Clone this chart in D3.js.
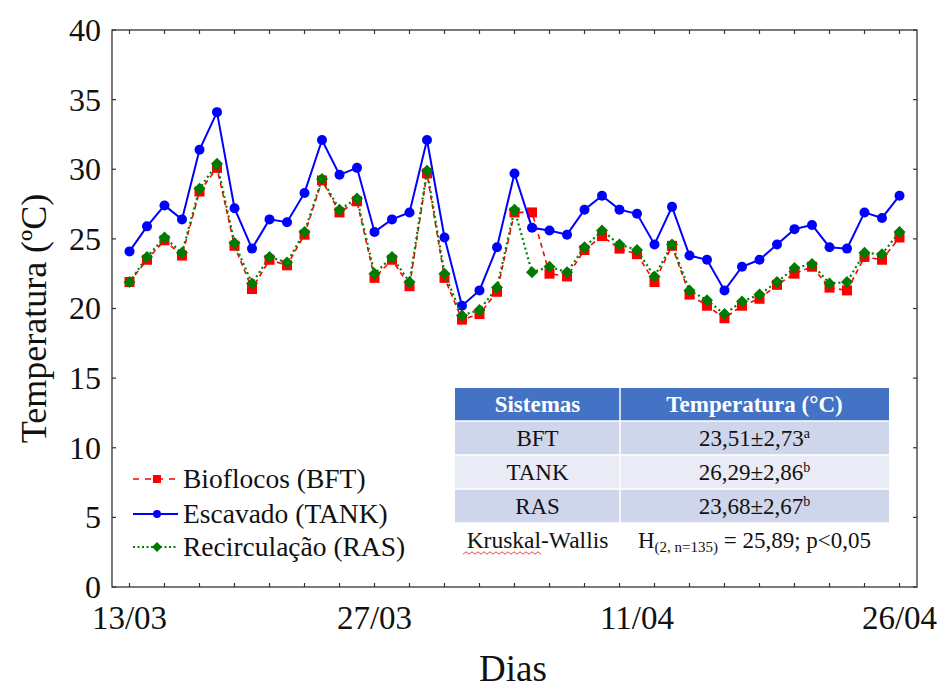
<!DOCTYPE html>
<html>
<head>
<meta charset="utf-8">
<script src="https://cdn.jsdelivr.net/npm/d3@7/dist/d3.min.js"></script>
<style>
  html, body { margin: 0; padding: 0; background: #fff; }
  svg { display: block; }
  text { font-family: "Liberation Serif", "Times New Roman", serif; }
</style>
</head>
<body>
<svg id="chart" width="943" height="689"></svg>
<script>
// ---------- data ----------
const days = d3.range(1, 46); // day index 1..45 (13/03 .. 26/04)
const bft  = [21.9,23.5,24.9,23.8,28.4,30.1,24.5,21.4,23.5,23.1,
              25.3,29.2,26.9,27.7,22.2,23.5,21.6,29.7,22.2,19.2,
              19.6,21.2,26.9,26.9,22.5,22.3,24.2,25.2,24.3,23.9,
              21.9,24.5,21.0,20.2,19.3,20.2,20.7,21.7,22.5,23.0,
              21.5,21.3,23.7,23.5,25.1];
const tank = [24.1,25.9,27.4,26.4,31.4,34.1,27.2,24.3,26.4,26.2,
              28.3,32.1,29.6,30.1,25.5,26.4,26.9,32.1,25.1,20.2,
              21.3,24.4,29.7,25.8,25.6,25.3,27.1,28.1,27.1,26.8,
              24.6,27.3,23.8,23.5,21.3,23.0,23.5,24.6,25.7,26.0,
              24.4,24.3,26.9,26.5,28.1];
const ras  = [21.9,23.7,25.1,24.0,28.6,30.4,24.7,21.8,23.7,23.3,
              25.5,29.3,27.1,27.9,22.5,23.7,21.9,29.9,22.5,19.5,
              19.9,21.5,27.1,22.6,23.0,22.6,24.4,25.6,24.6,24.2,
              22.3,24.6,21.3,20.6,19.6,20.5,21.0,21.9,22.9,23.2,
              21.8,21.9,24.0,23.9,25.5];
const xTickDays   = [1, 15, 30, 45];
const xTickLabels = ["13/03", "27/03", "11/04", "26/04"];
const yTicks      = [0, 5, 10, 15, 20, 25, 30, 35, 40];
const seriesNames = ["Bioflocos (BFT)", "Escavado (TANK)", "Recirculação (RAS)"];
const tableHeader = ["Sistemas", "Temperatura (°C)"];
const tableSystems = ["BFT", "TANK", "RAS"];
const tableValues  = ["23,51±2,73", "26,29±2,86", "23,68±2,67"];
const tableLetters = ["a", "b", "b"];

// ---------- layout ----------
const svg = d3.select("#chart");
const L = 112, R = 917, T = 30, B = 587;
const x = d3.scaleLinear().domain([0, 46]).range([L, R]);
const y = d3.scaleLinear().domain([0, 40]).range([B, T]);
const axisColor = "#333";

// frame
svg.append("rect").attr("x", L).attr("y", T).attr("width", R - L).attr("height", B - T)
  .attr("fill", "none").attr("stroke", axisColor).attr("stroke-width", 1.3);

// minor ticks (inside) on all four sides
const minorX = d3.range(1, 46, 2);
const tickG = svg.append("g").attr("stroke", axisColor).attr("stroke-width", 1.2);
tickG.selectAll(".tb").data(minorX).join("line")
  .attr("x1", d => x(d)).attr("x2", d => x(d)).attr("y1", B).attr("y2", B - 4);
tickG.selectAll(".tt").data(minorX).join("line")
  .attr("x1", d => x(d)).attr("x2", d => x(d)).attr("y1", T).attr("y2", T + 4);
tickG.selectAll(".tl").data(yTicks).join("line")
  .attr("x1", L).attr("x2", L + 4).attr("y1", d => y(d)).attr("y2", d => y(d));
tickG.selectAll(".tr").data(yTicks).join("line")
  .attr("x1", R).attr("x2", R - 4).attr("y1", d => y(d)).attr("y2", d => y(d));

// y tick labels
svg.append("g").selectAll("text").data(yTicks).join("text")
  .attr("x", L - 11).attr("y", d => y(d)).attr("dy", "0.34em")
  .attr("text-anchor", "end").attr("font-size", 32).attr("fill", "#111")
  .text(d => d);

// x tick labels
svg.append("g").selectAll("text").data(xTickDays).join("text")
  .attr("x", d => x(d)).attr("y", B + 42)
  .attr("text-anchor", "middle").attr("font-size", 33).attr("fill", "#111")
  .text((d, i) => xTickLabels[i]);

// axis titles
svg.append("text").attr("transform", `translate(46,${(T + B) / 2 + 10}) rotate(-90)`)
  .attr("text-anchor", "middle").attr("font-size", 36).attr("fill", "#111")
  .text("Temperatura (ºC)");
svg.append("text").attr("x", 513).attr("y", 681)
  .attr("text-anchor", "middle").attr("font-size", 37).attr("fill", "#111")
  .text("Dias");

// ---------- series ----------
const line = vals => d3.line().x((d, i) => x(days[i])).y(d => y(d))(vals);

// BFT (red dashed, squares)
svg.append("path").attr("d", line(bft)).attr("fill", "none")
  .attr("stroke", "#ff0000").attr("stroke-width", 1.6).attr("stroke-dasharray", "5,4");
svg.append("g").selectAll("rect").data(bft).join("rect")
  .attr("x", (d, i) => x(days[i]) - 5).attr("y", d => y(d) - 5)
  .attr("width", 10).attr("height", 10).attr("fill", "#ff0000");

// TANK (blue solid, circles)
svg.append("path").attr("d", line(tank)).attr("fill", "none")
  .attr("stroke", "#0000ff").attr("stroke-width", 2);
svg.append("g").selectAll("circle").data(tank).join("circle")
  .attr("cx", (d, i) => x(days[i])).attr("cy", d => y(d)).attr("r", 5)
  .attr("fill", "#0000ff");

// RAS (green dotted, diamonds)
const diamond = (cx, cy, s) => `M${cx},${cy - s}L${cx + s},${cy}L${cx},${cy + s}L${cx - s},${cy}Z`;
svg.append("path").attr("d", line(ras)).attr("fill", "none")
  .attr("stroke", "#008000").attr("stroke-width", 2.2).attr("stroke-dasharray", "2,3");
svg.append("g").selectAll("path").data(ras).join("path")
  .attr("d", (d, i) => diamond(x(days[i]), y(d), 6)).attr("fill", "#007a00");

// ---------- legend ----------
const legRows = [479, 514, 547];
const lg = svg.append("g");
// BFT
lg.append("line").attr("x1", 133).attr("x2", 177).attr("y1", legRows[0]).attr("y2", legRows[0])
  .attr("stroke", "#ff0000").attr("stroke-width", 1.6).attr("stroke-dasharray", "6,6");
lg.append("rect").attr("x", 153).attr("y", legRows[0] - 4).attr("width", 8).attr("height", 8).attr("fill", "#ff0000");
// TANK
lg.append("line").attr("x1", 133).attr("x2", 178).attr("y1", legRows[1]).attr("y2", legRows[1])
  .attr("stroke", "#0000ff").attr("stroke-width", 2);
lg.append("circle").attr("cx", 157).attr("cy", legRows[1]).attr("r", 4).attr("fill", "#0000ff");
// RAS
lg.append("line").attr("x1", 133).attr("x2", 178).attr("y1", legRows[2]).attr("y2", legRows[2])
  .attr("stroke", "#008000").attr("stroke-width", 2).attr("stroke-dasharray", "2,2.5");
lg.append("path").attr("d", diamond(157, legRows[2], 5)).attr("fill", "#007a00");
lg.selectAll("text").data(seriesNames).join("text")
  .attr("x", 183).attr("y", (d, i) => legRows[i]).attr("dy", "0.34em")
  .attr("font-size", 27.5).attr("fill", "#111").text(d => d);

// ---------- table ----------
const tx0 = 455, tx1 = 620, tx2 = 889;
const rowEdges = [388, 421, 455, 489, 523, 557];
const rowFill = ["#4472c4", "#cfd5ea", "#e9ebf5", "#cfd5ea", "#ffffff"];
const tg = svg.append("g");
rowFill.forEach((f, i) => {
  tg.append("rect").attr("x", tx0).attr("y", rowEdges[i]).attr("width", tx2 - tx0)
    .attr("height", rowEdges[i + 1] - rowEdges[i]).attr("fill", f);
});
// white separators
tg.selectAll(".hs").data(rowEdges.slice(1, 5)).join("line")
  .attr("x1", tx0).attr("x2", tx2).attr("y1", d => d).attr("y2", d => d)
  .attr("stroke", "#fff").attr("stroke-width", 1.5);
tg.append("line").attr("x1", tx1).attr("x2", tx1).attr("y1", rowEdges[0]).attr("y2", rowEdges[5])
  .attr("stroke", "#fff").attr("stroke-width", 1.5);

const c1 = (tx0 + tx1) / 2, c2 = (tx1 + tx2) / 2;
const rowMid = i => (rowEdges[i] + rowEdges[i + 1]) / 2;
// header
tg.append("text").attr("x", c1).attr("y", rowMid(0)).attr("dy", "0.34em").attr("text-anchor", "middle")
  .attr("font-size", 23).attr("font-weight", "bold").attr("fill", "#fff").text(tableHeader[0]);
tg.append("text").attr("x", c2).attr("y", rowMid(0)).attr("dy", "0.34em").attr("text-anchor", "middle")
  .attr("font-size", 23).attr("font-weight", "bold").attr("fill", "#fff").text(tableHeader[1]);
// body rows
tableSystems.forEach((s, i) => {
  tg.append("text").attr("x", c1).attr("y", rowMid(i + 1)).attr("dy", "0.34em").attr("text-anchor", "middle")
    .attr("font-size", 23).attr("fill", "#111").text(s);
  const t = tg.append("text").attr("x", c2).attr("y", rowMid(i + 1)).attr("dy", "0.34em")
    .attr("text-anchor", "middle").attr("font-size", 23).attr("fill", "#111");
  t.append("tspan").text(tableValues[i]);
  t.append("tspan").attr("font-size", 14).attr("dy", "-0.55em").text(tableLetters[i]);
});
// Kruskal-Wallis row
tg.append("text").attr("x", c1).attr("y", rowMid(4)).attr("dy", "0.34em").attr("text-anchor", "middle")
  .attr("font-size", 23.5).attr("fill", "#111").text("Kruskal-Wallis");
const kw = tg.append("text").attr("x", c2).attr("y", rowMid(4)).attr("dy", "0.34em")
  .attr("text-anchor", "middle").attr("font-size", 23).attr("fill", "#111");
kw.append("tspan").text("H");
kw.append("tspan").attr("font-size", 15).attr("dy", "0.3em").text("(2, n=135)");
kw.append("tspan").attr("dy", "-0.2em").text(" = 25,89; p<0,05");
// red wavy spell-check underline under "Kruskal"
const wav = d3.range(0, 27).map(k => [463 + k * 3, 553 + (k % 2 ? -1.2 : 1.2)]);
tg.append("path").attr("d", d3.line()(wav)).attr("fill", "none").attr("stroke", "#e03030").attr("stroke-width", 0.9);
</script>
</body>
</html>
